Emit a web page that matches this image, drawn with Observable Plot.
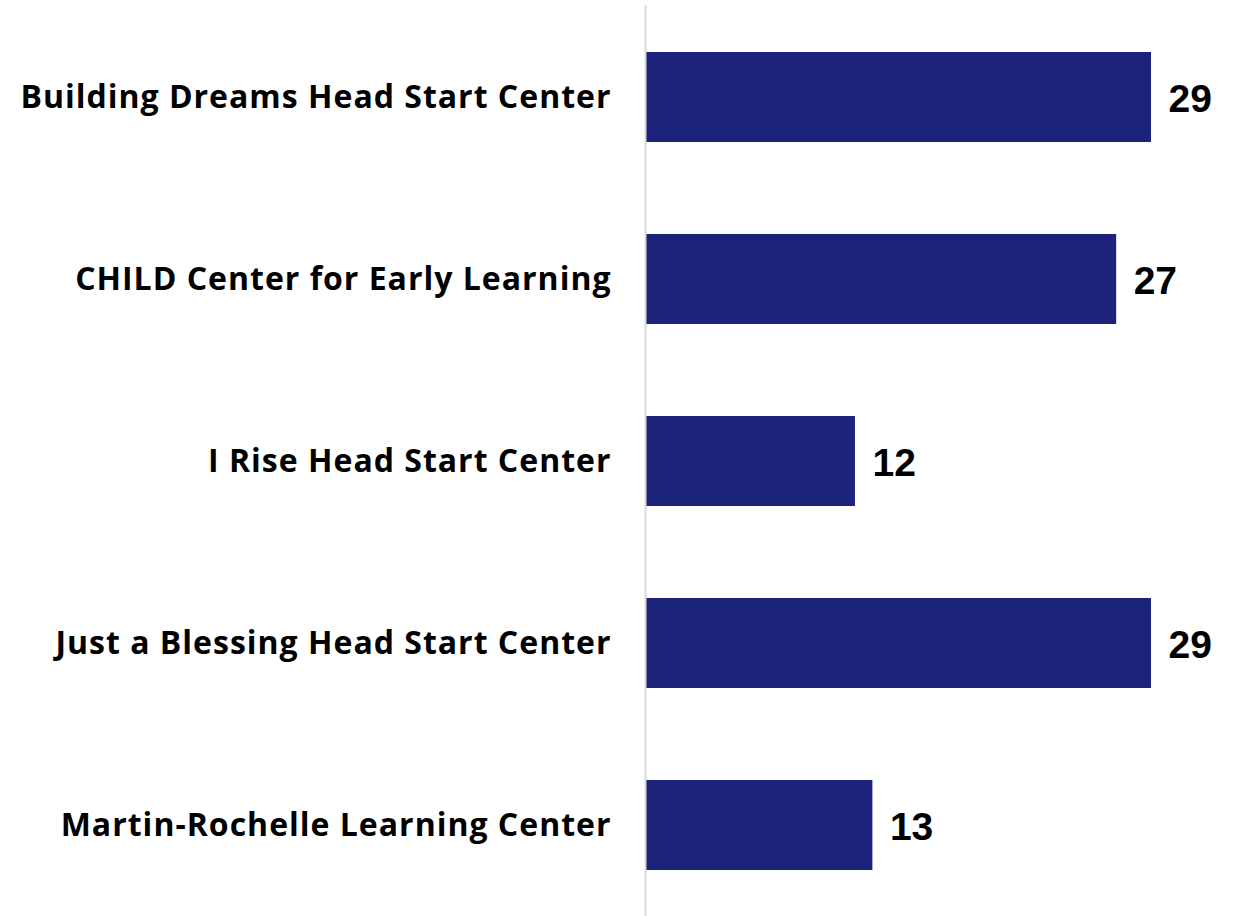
<!DOCTYPE html>
<html>
<head>
<meta charset="utf-8">
<script src="https://cdn.jsdelivr.net/npm/d3@7"></script>
<script src="https://cdn.jsdelivr.net/npm/@observablehq/plot@0.6"></script>
<style>
  html, body { margin: 0; padding: 0; background: #fff; }
  #chart svg { display: block; }
</style>
</head>
<body>
<div id="chart"></div>
<script>
const centers = [
  "Building Dreams Head Start Center",
  "CHILD Center for Early Learning",
  "I Rise Head Start Center",
  "Just a Blessing Head Start Center",
  "Martin-Rochelle Learning Center"
];
const counts = [29, 27, 12, 29, 13];

const data = centers.map((c, i) => ({center: c, value: counts[i]}));

const chart = Plot.plot({
  width: 1245,
  height: 916,
  marginTop: 5,
  marginBottom: 0,
  marginLeft: 646,
  marginRight: 94,
  style: {background: "#fff"},
  x: {domain: [0, 29], axis: null},
  y: {domain: centers, padding: 0, axis: null},
  marks: [
    Plot.barX(data, {
      x: "value", y: "center", fill: "#1d237b",
      insetTop: 46, insetBottom: 46
    }),
    Plot.ruleX([0], {stroke: "#d9d9d9", strokeWidth: 2, dx: -1}),
    Plot.text(data, {
      x: 0, y: "center", text: "center", textAnchor: "end", dx: -35, dy: 0,
      fontSize: 32, fontWeight: 700, fontFamily: "Open Sans", fill: "#000"
    }),
    Plot.text(data, {
      x: "value", y: "center", text: d => String(d.value), textAnchor: "start", dx: 17, dy: 2,
      fontSize: 39, fontWeight: 700, fontFamily: "Liberation Sans", fill: "#000"
    })
  ]
});
d3.select(chart).selectAll("g[aria-label=text]").filter((d, i) => i === 0)
  .style("letter-spacing", "1px");
document.getElementById("chart").appendChild(chart);
</script>
</body>
</html>
